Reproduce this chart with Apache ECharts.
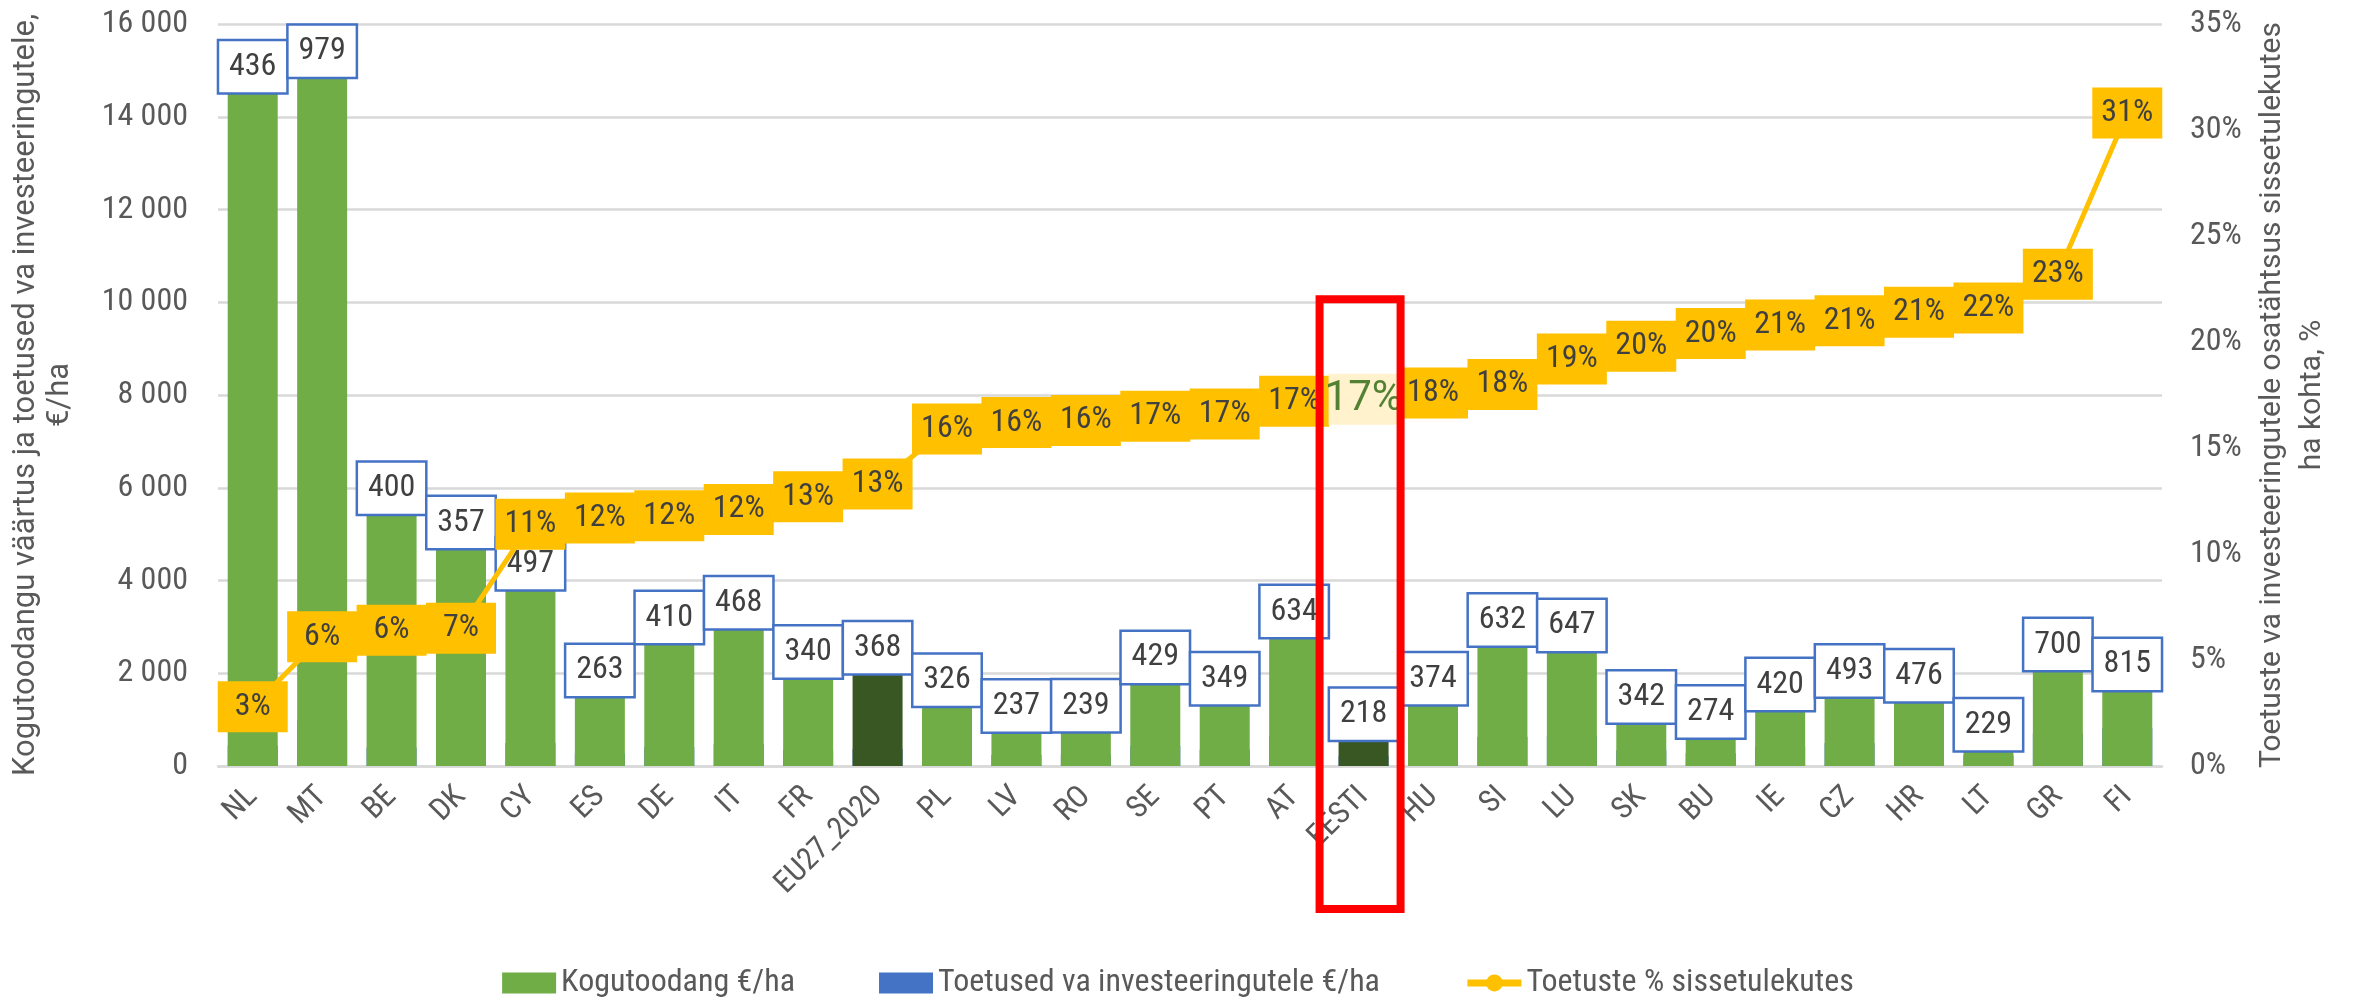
<!DOCTYPE html>
<html>
<head>
<meta charset="utf-8">
<script src="https://cdn.jsdelivr.net/npm/echarts@6/dist/echarts.min.js"></script>
<style>
  html, body { margin: 0; padding: 0; background: #fff; }
  #main { width: 2356px; height: 1001px; }
</style>
</head>
<body>
<div id="main"></div>
<script>
// riigid
var categories = ['NL', 'MT', 'BE', 'DK', 'CY', 'ES', 'DE', 'IT', 'FR', 'EU27_2020', 'PL', 'LV', 'RO', 'SE', 'PT', 'AT', 'EESTI', 'HU', 'SI', 'LU', 'SK', 'BU', 'IE', 'CZ', 'HR', 'LT', 'GR', 'FI'];
// Kogutoodang €/ha
var kogutoodang = [14530, 14860, 5440, 4700, 3810, 1510, 2650, 2970, 1910, 2000, 1300, 745, 750, 1790, 1330, 2780, 565, 1330, 2600, 2480, 940, 615, 1205, 1500, 1395, 340, 2070, 1640];
// Toetused va investeeringutele €/ha
var toetused = [436, 979, 400, 357, 497, 263, 410, 468, 340, 368, 326, 237, 239, 429, 349, 634, 218, 374, 632, 647, 342, 274, 420, 493, 476, 229, 700, 815];
// Toetuste % sissetulekutes
var osakaal = [2.8, 6.1, 6.4, 6.5, 11.4, 11.7, 11.8, 12.1, 12.7, 13.3, 15.9, 16.2, 16.3, 16.5, 16.6, 17.2, 17.3, 17.6, 18.0, 19.2, 19.8, 20.4, 20.8, 21.0, 21.4, 21.6, 23.2, 30.8];

var esile = ['EU27_2020', 'EESTI']; // tumedam roheline
var narrow = "'Roboto Condensed', 'Liberation Sans Narrow', 'DejaVu Sans Condensed', Roboto, sans-serif";
var gray = '#595959';

var myChart = echarts.init(document.getElementById('main'));

var option = {
  animation: false,
  grid: { left: 218, right: 194, top: 24, bottom: 235, containLabel: false, outerBoundsMode: 'none' },
  legend: {
    top: 962,
    left: 'center',
    itemWidth: 54,
    itemHeight: 21,
    itemGap: 84,
    textStyle: { fontFamily: narrow, fontSize: 32, color: gray },
    data: [
      { name: 'Kogutoodang €/ha', icon: 'rect' },
      { name: 'Toetused va investeeringutele €/ha', icon: 'rect' },
      { name: 'Toetuste % sissetulekutes', lineStyle: { width: 7 } }
    ]
  },
  xAxis: {
    type: 'category',
    data: categories,
    axisTick: { show: false },
    axisLine: { lineStyle: { color: '#D9D9D9', width: 2.5 } },
    axisLabel: { rotate: 45, margin: 26, interval: 0, fontFamily: narrow, fontSize: 31, color: gray }
  },
  yAxis: [
    {
      type: 'value',
      min: 0,
      max: 16000,
      interval: 2000,
      name: 'Kogutoodangu väärtus ja toetused va investeeringutele,\n€/ha',
      nameLocation: 'middle',
      nameRotate: 90,
      nameGap: 141,
      nameTextStyle: { fontFamily: 'Roboto', fontSize: 31, color: gray, lineHeight: 34 },
      axisLine: { show: false },
      axisTick: { show: false },
      axisLabel: {
        fontFamily: narrow, fontSize: 32, color: gray, margin: 30,
        formatter: function (v) { return String(v).replace(/\B(?=(\d{3})+(?!\d))/g, ' '); }
      },
      splitLine: { lineStyle: { color: '#D9D9D9', width: 2.5 } }
    },
    {
      type: 'value',
      min: 0,
      max: 35,
      interval: 5,
      name: 'Toetuste va investeeringutele osatähtsus sissetulekutes\nha kohta, %',
      nameLocation: 'middle',
      nameRotate: 90,
      nameGap: 89,
      nameTextStyle: { fontFamily: 'Roboto', fontSize: 30, color: gray, lineHeight: 40 },
      axisLine: { show: false },
      axisTick: { show: false },
      axisLabel: { fontFamily: narrow, fontSize: 32, color: gray, margin: 28, formatter: '{value}%' },
      splitLine: { show: false }
    }
  ],
  series: [
    {
      name: 'Kogutoodang €/ha',
      type: 'bar',
      z: 3,
      barWidth: 50,
      barGap: '-100%',
      itemStyle: { color: '#70AD47' },
      data: kogutoodang.map(function (v, i) {
        if (esile.indexOf(categories[i]) >= 0) {
          return { value: v, itemStyle: { color: '#385723' } };
        }
        return v;
      }),
      label: {
        show: true,
        position: 'top',
        distance: 0,
        formatter: function (p) { return toetused[p.dataIndex]; },
        backgroundColor: '#fff',
        borderColor: '#4472C4',
        borderWidth: 2.5,
        width: 63,
        height: 47,
        lineHeight: 47,
        padding: [2, 2],
        align: 'center',
        fontFamily: narrow,
        fontSize: 32,
        color: '#404040'
      }
    },
    {
      name: 'Toetused va investeeringutele €/ha',
      type: 'bar',
      z: 2,
      barWidth: 50,
      barGap: '-100%',
      itemStyle: { color: '#4472C4' },
      data: toetused
    },
    {
      name: 'Toetuste % sissetulekutes',
      type: 'line',
      yAxisIndex: 1,
      z: 5,
      symbol: 'circle',
      symbolSize: 12,
      itemStyle: { color: '#FFC000' },
      lineStyle: { color: '#FFC000', width: 5 },
      data: osakaal.map(function (v, i) {
        if (categories[i] === 'EESTI') {
          return {
            value: v,
            label: { backgroundColor: '#FFF2CC', color: '#548235', fontSize: 42, fontFamily: 'Roboto' }
          };
        }
        return v;
      }),
      label: {
        show: true,
        position: 'inside',
        formatter: function (p) { return Math.round(p.value) + '%'; },
        backgroundColor: '#FFC000',
        width: 70,
        height: 51,
        lineHeight: 51,
        padding: 0,
        align: 'center',
        verticalAlign: 'middle',
        fontFamily: narrow,
        fontSize: 32,
        color: '#404040'
      }
    }
  ]
};

myChart.setOption(option);

// punane raam Eesti ümber
var cx = myChart.convertToPixel({ xAxisIndex: 0 }, 'EESTI');
var yTop = myChart.convertToPixel({ yAxisIndex: 0 }, 10000);
var yZero = myChart.convertToPixel({ yAxisIndex: 0 }, 0);
myChart.setOption({
  graphic: [{
    type: 'rect',
    z: 100,
    shape: { x: cx - 44, y: yTop - 3, width: 81, height: yZero - yTop + 146 },
    style: { fill: null, stroke: '#FF0000', lineWidth: 8 }
  }]
});
</script>
</body>
</html>
